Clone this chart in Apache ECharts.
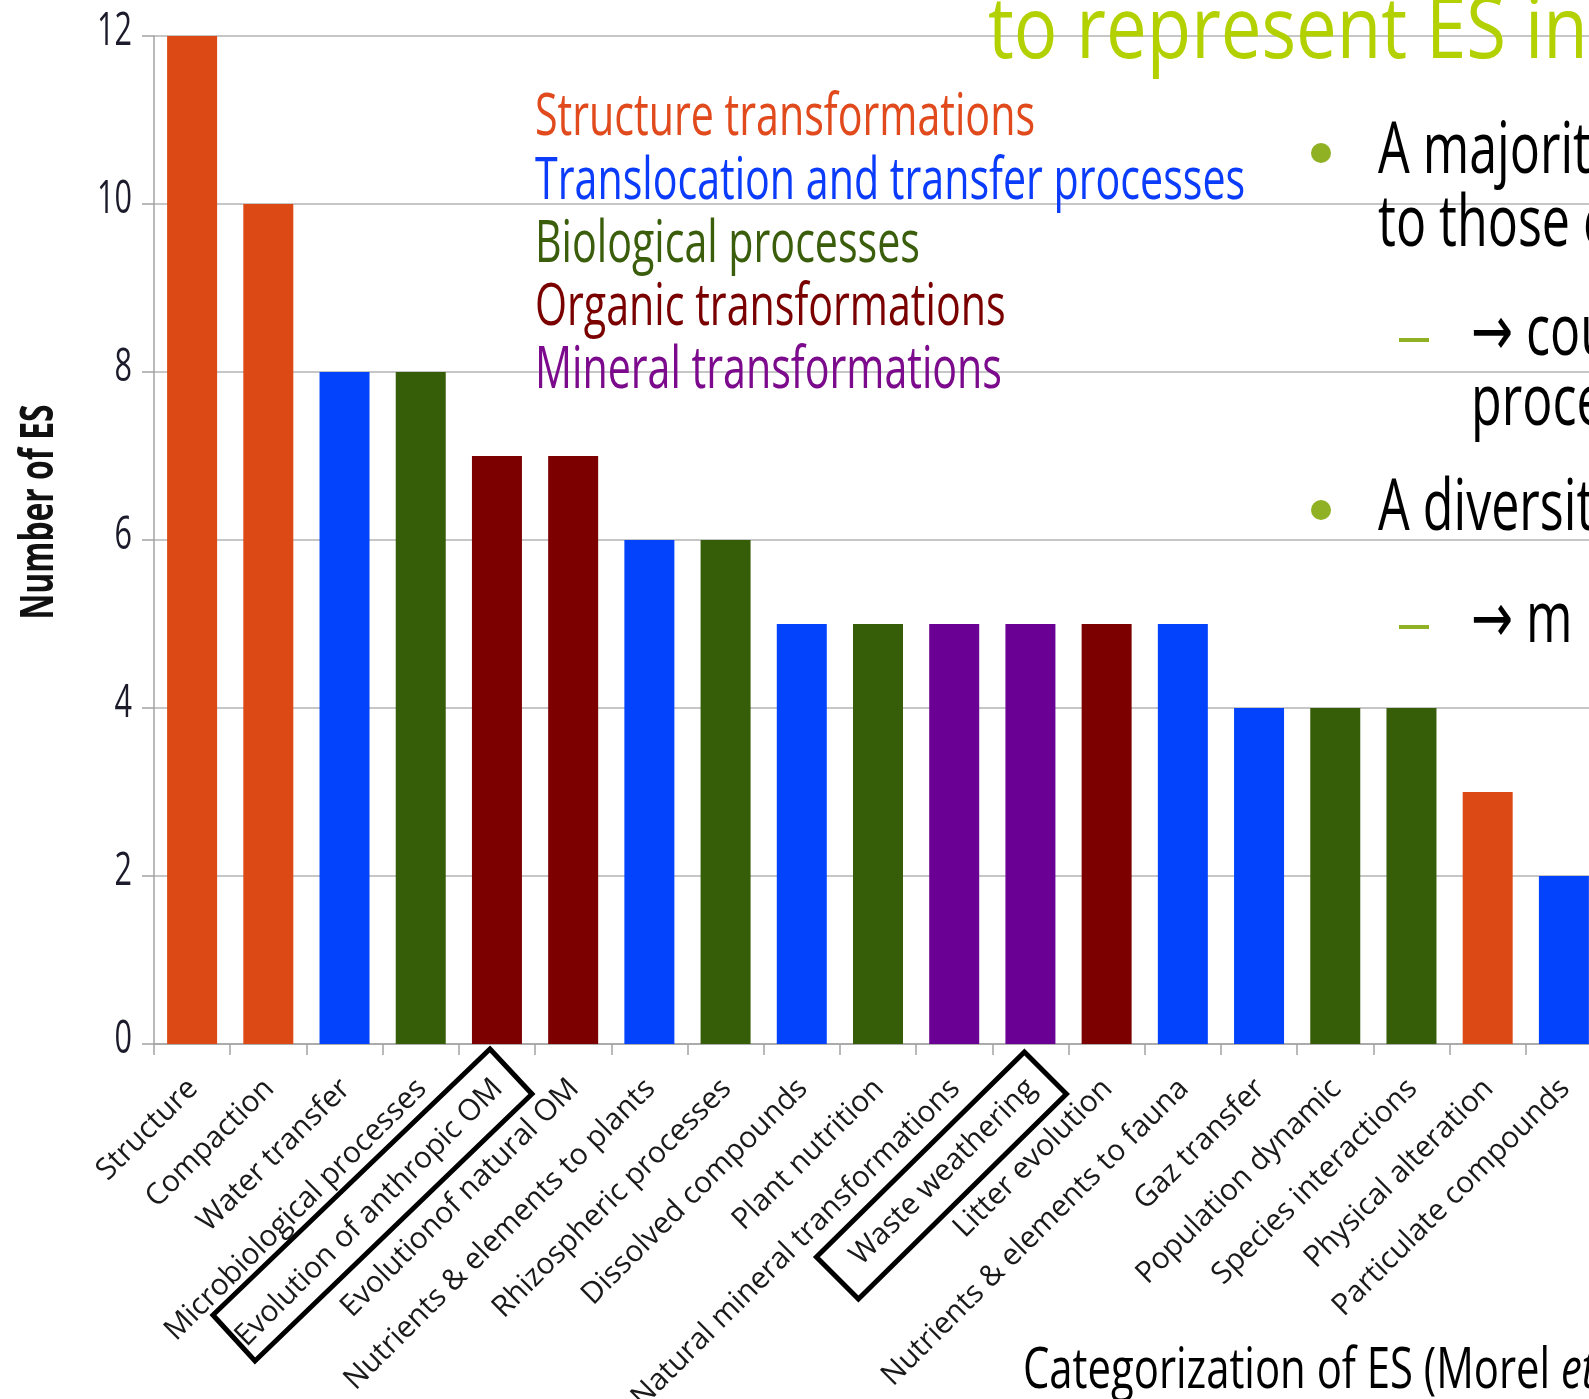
<!DOCTYPE html>
<html>
<head>
<meta charset="utf-8">
<script src="https://cdn.jsdelivr.net/npm/echarts@6/dist/echarts.min.js"></script>
<style>
  html, body { margin: 0; padding: 0; background: #fff; overflow: hidden; }
  #chart { width: 1610px; height: 1399px; }
</style>
</head>
<body>
<div id="chart"></div>
<script>
var categories = ['Structure', 'Compaction', 'Water transfer', 'Microbiological processes',
  'Evolution of anthropic OM', 'Evolutionof natural OM', 'Nutrients & elements to plants',
  'Rhizospheric processes', 'Dissolved compounds', 'Plant nutrition',
  'Natural mineral transformations', 'Waste weathering', 'Litter evolution',
  'Nutrients & elements to fauna', 'Gaz transfer', 'Population dynamic',
  'Species interactions', 'Physical alteration', 'Particulate compounds']
var counts = [12, 10, 8, 8, 7, 7, 6, 6, 5, 5, 5, 5, 5, 5, 4, 4, 4, 3, 2]
var groups = ['structure', 'structure', 'transfer', 'bio', 'organic', 'organic', 'transfer',
  'bio', 'transfer', 'bio', 'mineral', 'mineral', 'organic', 'transfer', 'transfer',
  'bio', 'bio', 'structure', 'transfer']
var groupNames = ['Structure transformations', 'Translocation and transfer processes',
  'Biological processes', 'Organic transformations', 'Mineral transformations']
var groupKeys = ['structure', 'transfer', 'bio', 'organic', 'mineral']
var yTicks = [0, 2, 4, 6, 8, 10, 12]
var boxed = ['Evolution of anthropic OM', 'Waste weathering']

var barColors = {
  structure: '#dc4915',
  transfer: '#0343fc',
  bio: '#365d08',
  organic: '#7d0000',
  mineral: '#6a0094'
}
var textColors = {
  structure: '#e04a1c',
  transfer: '#0b3cfb',
  bio: '#3b5e0c',
  organic: '#7a0000',
  mineral: '#7c0a8c'
}

var family = '"Open Sans", "DejaVu Sans", sans-serif'
var ctx = document.createElement('canvas').getContext('2d')
// the slide uses a condensed face, so squeeze a normal one to the measured width
function squeeze(text, font, target) {
  ctx.font = font
  return target / ctx.measureText(text).width
}
// y for verticalAlign middle, given the baseline
function mid(baseline, size) { return baseline - 0.28 * size }

var chart = echarts.init(document.getElementById('chart'))

chart.setOption({
  backgroundColor: '#fff',
  animation: false,
  grid: { left: 154, right: 8, top: 36, bottom: 355 },
  xAxis: {
    type: 'category',
    data: categories,
    axisLine: { lineStyle: { color: '#a3a3a3', width: 1.5 } },
    axisTick: { show: true, interval: 0, length: 11, lineStyle: { color: '#a3a3a3', width: 1.5 } },
    axisLabel: { show: false, interval: 0 }
  },
  yAxis: {
    type: 'value',
    min: yTicks[0],
    max: yTicks[yTicks.length - 1],
    interval: 2,
    axisLine: { show: true, lineStyle: { color: '#a3a3a3', width: 1.5 } },
    axisTick: { show: true, length: 12, lineStyle: { color: '#a3a3a3', width: 1.5 } },
    axisLabel: { show: false },
    splitLine: { lineStyle: { color: '#c6c6c6', width: 2 } }
  },
  series: [{
    type: 'bar',
    barWidth: 50,
    data: counts.map(function (v, i) {
      return { value: v, itemStyle: { color: barColors[groups[i]] } }
    })
  }]
})

var g = []
var y0 = chart.convertToPixel({ yAxisIndex: 0 }, 0)

// y tick labels
var yFont = '45px ' + family
var ySx = squeeze('12', yFont, 35)
yTicks.forEach(function (v) {
  g.push({
    type: 'text', x: 132, y: chart.convertToPixel({ yAxisIndex: 0 }, v) - 4, scaleX: ySx,
    style: { text: String(v), font: yFont, fill: '#1b1b2b', align: 'right', verticalAlign: 'middle' }
  })
})
// y axis name
var nameFont = 'bold 46px ' + family
g.push({
  type: 'text', x: 40, y: 512, rotation: Math.PI / 2,
  scaleX: squeeze('Number of ES', nameFont, 215),
  style: { text: 'Number of ES', font: nameFont, fill: '#111', align: 'center', verticalAlign: 'middle' }
})
// rotated category labels
var xFont = '30px ' + family
var xSx = squeeze('Microbiological processes', xFont, 356)
categories.forEach(function (c) {
  var cx = chart.convertToPixel({ xAxisIndex: 0 }, c)
  g.push({
    type: 'text', x: cx + 1, y: y0 + 40, rotation: Math.PI / 4, scaleX: xSx,
    style: { text: c, font: xFont, fill: '#1a1a1a', align: 'right', verticalAlign: 'middle' }
  })
})

// coloured group list
var legFont = '59px ' + family
var legSx = squeeze(groupNames[0], legFont, 500)
groupNames.forEach(function (name, i) {
  g.push({
    type: 'text', x: 535, y: mid(135 + i * 63.3, 59), scaleX: legSx, z: 10,
    style: { text: name, fill: textColors[groupKeys[i]], font: legFont, verticalAlign: 'middle' }
  })
})

// slide title and bullet text around the chart
var titleFont = '86px ' + family
g.push({
  type: 'text', x: 988, y: mid(58, 86), z: 0,
  scaleX: squeeze('to represent ES ', titleFont, 537),
  style: { text: 'to represent ES in', fill: '#b3d000', font: titleFont, verticalAlign: 'middle' }
})
var bodyFont = '71px ' + family
var bodySx = squeeze('A majorit', bodyFont, 213)
var slideLines = [
  { x: 1378, b: 173, t: 'A majority of ES', bullet: true },
  { x: 1378, b: 246, t: 'to those of soil' },
  { x: 1471, b: 355, t: '\u2192 could', dash: true },
  { x: 1471, b: 425, t: 'processes' },
  { x: 1378, b: 530, t: 'A diversity of', bullet: true },
  { x: 1471, b: 642, t: '\u2192 m', dash: true }
]
slideLines.forEach(function (l) {
  g.push({
    type: 'text', x: l.x, y: mid(l.b, 71), scaleX: bodySx, z: 10,
    style: { text: l.t, fill: '#000', font: bodyFont, verticalAlign: 'middle' }
  })
  if (l.bullet) {
    g.push({ type: 'circle', shape: { cx: 1321, cy: l.b - 20, r: 10 }, style: { fill: '#8fb123' } })
  }
  if (l.dash) {
    g.push({ type: 'rect', shape: { x: 1399, y: l.b - 17, width: 30, height: 4 }, style: { fill: '#8fb123' } })
  }
})
var capFont = '57px ' + family
g.push({
  type: 'text', x: 1023, y: mid(1388, 57), z: 10,
  scaleX: squeeze('Categorization of ES (Morel ', capFont, 538),
  style: {
    text: 'Categorization of ES (Morel {i|et al.}',
    fill: '#000', font: capFont, verticalAlign: 'middle',
    rich: { i: { fontStyle: 'italic', fontSize: 57, fontFamily: family } }
  }
})

// black boxes drawn round two of the category labels
var boxShapes = [
  [[-7, 5], [35, 50], [-242, 317], [-284, 271]],
  [[-6, 8], [36, 50], [-172, 255], [-214, 213]]
]
boxed.forEach(function (name, k) {
  var cx = chart.convertToPixel({ xAxisIndex: 0 }, name)
  g.push({
    type: 'polygon', z: 20,
    shape: { points: boxShapes[k].map(function (p) { return [cx + p[0], y0 + p[1]] }) },
    style: { fill: 'none', stroke: '#000', lineWidth: 5 }
  })
})

chart.setOption({ graphic: g })
</script>
</body>
</html>
